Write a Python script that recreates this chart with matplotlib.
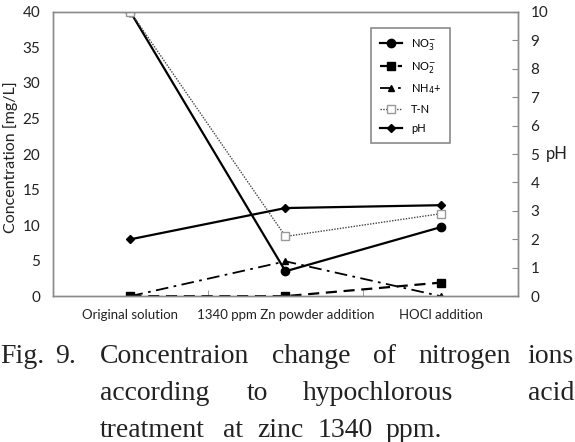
import matplotlib.pyplot as plt

# Categories on the x axis
STAGES = ["Original solution", "1340 ppm Zn powder addition", "HOCl addition"]

# Concentrations in mg/L
NO3 = [40.0, 3.5, 9.7]
NO2 = [0.0, 0.0, 1.9]
NH4 = [0.0, 4.9, 0.0]
TN = [40.0, 8.4, 11.6]

# pH (right axis)
PH = [2.0, 3.1, 3.2]

CONC_TICKS = [0, 5, 10, 15, 20, 25, 30, 35, 40]
PH_TICKS = [0, 1, 2, 3, 4, 5, 6, 7, 8, 9, 10]

FRAME = "#8a8a8a"
TXT = "#222222"


def main():
    plt.rcParams["font.family"] = ["Lato", "DejaVu Sans"]

    fig = plt.figure(figsize=(5.75, 4.42), dpi=100)
    ax = fig.add_axes([0.092, 0.330, 0.809, 0.643])
    ax2 = ax.twinx()

    x = list(range(len(STAGES)))

    h1, = ax.plot(x, NO3, color="black", lw=1.6, marker="o", ms=6, label=r"NO$_3^{-}$")
    h2, = ax.plot(x, NO2, color="black", lw=1.6, ls=(0, (5, 3)), marker="s", ms=6,
                  label=r"NO$_2^{-}$")
    h3, = ax.plot(x, NH4, color="black", lw=1.3, ls=(0, (7, 3, 1.5, 3)), marker="^", ms=5,
                  label=r"NH$_4$+")
    h4, = ax.plot(x, TN, color="#444444", lw=1.0, ls=(0, (1, 1)), marker="s", ms=6,
                  mfc="white", mec="#999999", label="T-N")
    h5, = ax2.plot(x, PH, color="black", lw=1.6, marker="D", ms=4, label="pH")

    ax.set_xlim(-0.5, 2.5)
    ax.set_ylim(0, 40)
    ax2.set_ylim(0, 10)

    ax.set_xticks(x)
    ax.set_xticklabels(STAGES, fontsize=9.5, color=TXT)
    ax.set_xticks([0.5, 1.5], minor=True)
    ax.tick_params(axis="x", which="major", length=0, pad=9)
    ax.tick_params(axis="x", which="minor", direction="in", length=4, color=FRAME)

    ax.set_yticks(CONC_TICKS)
    ax.tick_params(axis="y", length=0, labelsize=11, pad=9, labelcolor=TXT)
    ax.set_ylabel("Concentration [mg/L]", fontsize=11.5, color=TXT, va="center")
    ax.yaxis.set_label_coords(-0.092, 0.49)

    ax2.set_yticks(PH_TICKS)
    ax2.tick_params(axis="y", direction="in", length=4, color=FRAME, labelsize=11, pad=9,
                    labelcolor=TXT)
    ax2.set_ylabel("pH", fontsize=12, rotation=0, labelpad=6, va="center", color=TXT)

    for a in (ax, ax2):
        for s in a.spines.values():
            s.set_color(FRAME)
            s.set_linewidth(1.0)

    leg = ax.legend(handles=[h1, h2, h3, h4, h5], loc="upper left",
                    bbox_to_anchor=(0.684, 0.944), borderaxespad=0, fontsize=8,
                    fancybox=False, edgecolor=FRAME, framealpha=1, handlelength=2.0,
                    labelspacing=0.7, borderpad=0.8)
    leg.get_frame().set_linewidth(1.2)
    leg.set_zorder(5)

    # caption, laid out word by word to mimic justified text
    serif = dict(family="Liberation Serif", fontsize=20, color=TXT, va="baseline")
    W, H = 575.0, 442.0
    words = [
        ("Fig.", 0, 363, "left"), ("9.", 55, 363, "left"), ("Concentraion", 100, 363, "left"),
        ("change", 272, 363, "left"), ("of", 373, 363, "left"), ("nitrogen", 418, 363, "left"),
        ("ions", 574, 363, "right"),
        ("according", 100, 400, "left"), ("to", 247, 400, "left"),
        ("hypochlorous", 303, 400, "left"), ("acid", 574, 400, "right"),
        ("treatment", 100, 437, "left"), ("at", 223, 437, "left"), ("zinc", 257, 437, "left"),
        ("1340", 318, 437, "left"), ("ppm.", 386, 437, "left"),
    ]
    for txt, px, py, ha in words:
        fig.text(px / W, 1 - py / H, txt, ha=ha, **serif)

    fig.savefig("out.png", dpi=100)


if __name__ == "__main__":
    main()
